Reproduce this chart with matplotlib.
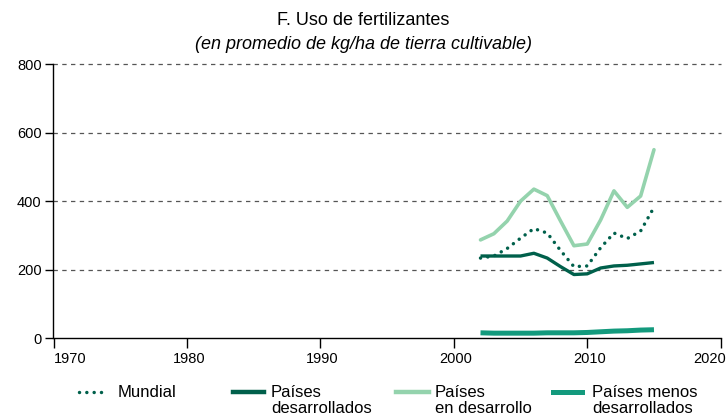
import matplotlib.pyplot as plt
from matplotlib.lines import Line2D
from matplotlib.transforms import ScaledTranslation

plt.rcParams['font.family'] = ['Liberation Sans', 'DejaVu Sans']

# Data (kg/ha of arable land)
years = list(range(2002, 2016))
mundial = [234, 240, 262, 292, 320, 307, 256, 209, 211, 264, 307, 291, 313, 382]
desarrollados = [240, 240, 240, 240, 248, 234, 209, 186, 188, 205, 211, 213, 217, 221]
en_desarrollo = [287, 305, 342, 400, 435, 416, 342, 270, 275, 345, 430, 382, 415, 550]
menos_desarrollados = [16, 15, 15, 15, 15, 16, 16, 16, 17, 19, 21, 22, 24, 25]

x_ticks = [1970, 1980, 1990, 2000, 2010, 2020]
y_ticks = [0, 200, 400, 600, 800]

C_DARK = '#00604b'
C_LIGHT = '#94d3ad'
C_MID = '#139a7d'
DOTS = (0, (0.01, 2.1))

fig = plt.figure(figsize=(7.27, 4.16), dpi=100)
ax = fig.add_axes([53.5 / 727, (416 - 338.3) / 416, (720.7 - 53.5) / 727, (338.3 - 64) / 416])

for y in y_ticks[1:]:
    ax.axhline(y, color='#555555', lw=0.9, ls=(0, (3.5, 3.5)), zorder=0, clip_on=False)

ax.plot(years, menos_desarrollados, color=C_MID, lw=3.6, solid_capstyle='butt')
ax.plot(years, en_desarrollo, color=C_LIGHT, lw=2.6, solid_capstyle='round', solid_joinstyle='round')
ax.plot(years, desarrollados, color=C_DARK, lw=2.4, solid_capstyle='butt', solid_joinstyle='round')
ax.plot(years, mundial, color=C_DARK, lw=2.5, ls=DOTS, dash_capstyle='round')

ax.set_xlim(1970, 2020)
ax.set_ylim(0, 800)
ax.set_xticks(x_ticks)
ax.set_yticks(y_ticks)
for s in ['top', 'right']:
    ax.spines[s].set_visible(False)
for s in ['left', 'bottom']:
    ax.spines[s].set_linewidth(1.0)
ax.tick_params(axis='x', direction='out', length=7, width=1.0, labelsize=10.5, pad=3)
ax.tick_params(axis='y', direction='out', length=6, width=1.0, labelsize=10.5, pad=2.5)

# first label sits right of its tick, last one left of it
xlabels = ax.get_xticklabels()
xlabels[0].set_ha('left')
xlabels[-1].set_ha('right')
xlabels[-1].set_transform(xlabels[-1].get_transform() + ScaledTranslation(5 / 100, 0, fig.dpi_scale_trans))
for lab in xlabels[1:-1]:
    lab.set_transform(lab.get_transform() + ScaledTranslation(2 / 100, 0, fig.dpi_scale_trans))

fig.text(0.5, 1 - 25 / 416, 'F. Uso de fertilizantes', ha='center', va='baseline', fontsize=13)
fig.text(0.5, 1 - 49 / 416, '(en promedio de kg/ha de tierra cultivable)',
         ha='center', va='baseline', fontsize=13, style='italic')

# legend drawn by hand so the handle sits beside the first text line
legend_items = [
    ('Mundial', dict(color=C_DARK, lw=2.5, ls=DOTS, dash_capstyle='round'), 79, 106, 118),
    ('Países\ndesarrollados', dict(color=C_DARK, lw=3.2), 233, 264, 271),
    ('Países\nen desarrollo', dict(color=C_LIGHT, lw=3.2), 396, 429, 435),
    ('Países menos\ndesarrollados', dict(color=C_MID, lw=3.6), 553, 582, 592),
]
ly = 1 - 392 / 416
for label, style, x0, x1, xt in legend_items:
    fig.add_artist(Line2D([x0 / 727, x1 / 727], [ly, ly], transform=fig.transFigure, **style))
    fig.text(xt / 727, 1 - 385 / 416, label, ha='left', va='top', fontsize=12, linespacing=1.12)

fig.savefig('out.png', dpi=100)
